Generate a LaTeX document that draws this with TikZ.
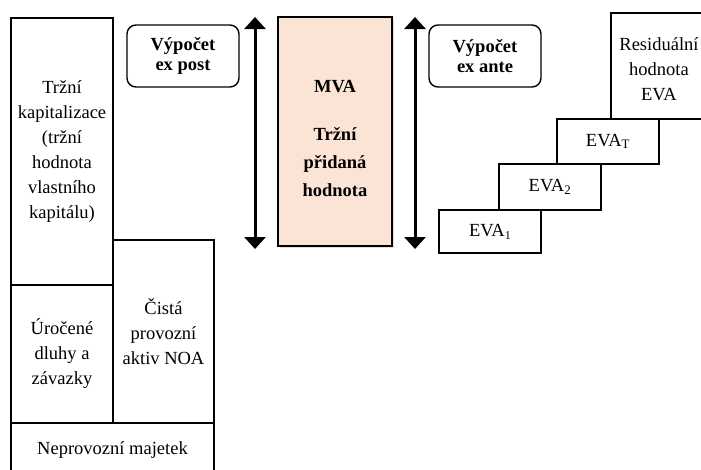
\documentclass[tikz,border=0pt]{standalone}
\usepackage{fontspec}
\setmainfont{Liberation Serif}
\usetikzlibrary{arrows.meta,shadows}
\definecolor{peach}{HTML}{FBE4D5}
\tikzset{
  plainbox/.style={draw, line width=1.2pt, inner sep=0pt, outer sep=0pt, align=center,
    font=\fontsize{18.5}{25}\selectfont},
  roundbox/.style={plainbox, rounded corners=9pt, line width=1.4pt,
    font=\fontsize{18.5}{20}\selectfont\bfseries},
  dblarrow/.style={line width=3pt, {Triangle[width=21pt,length=12pt]}-{Triangle[width=21pt,length=12pt]}},
}
\newcommand{\evasub}[1]{\raisebox{-0.35ex}{\fontsize{12}{12}\selectfont #1}}
\begin{document}
\begin{tikzpicture}[x=1pt,y=-1pt]
\useasboundingbox (0,0) rectangle (701,469);

% balance-sheet column
\node[plainbox, minimum width=102pt, minimum height=267pt] (kap) at (62,151.5)
  {Tržní\\kapitalizace\\(tržní\\hodnota\\vlastního\\kapitálu)};
\node[plainbox, minimum width=102pt, minimum height=138pt] (uroc) at (62,354)
  {Úročené\\dluhy a\\závazky};
\node[plainbox, minimum width=101pt, minimum height=183pt] (cista) at (163.5,331.5)
  {Čistá\\provozní\\aktiv NOA};
\node[plainbox, minimum width=203pt, minimum height=57pt] (neprov) at (112.5,451.5) {};
\node[font=\fontsize{18.5}{25}\selectfont] (neprovtxt) at (112.5,450) {Neprovozní majetek};

% calculation labels
\node[roundbox, minimum width=112pt, minimum height=62pt] (expost) at (183,56) {Výpočet\\ex post};
\node[roundbox, minimum width=112pt, minimum height=62pt] (exante) at (485,56) {Výpočet\\ex ante};

% MVA
\node[plainbox, fill=peach, minimum width=114pt, minimum height=229pt,
  drop shadow={shadow xshift=2pt, shadow yshift=-2pt, opacity=0.25}] (mva) at (335,131.5) {};
\node[align=center, font=\fontsize{18.5}{28}\selectfont\bfseries] (mvatxt) at (335,138)
  {MVA\\[20pt]Tržní\\přidaná\\hodnota};

% vertical arrows
\coordinate (lt) at (255,17);
\coordinate (lb) at (255,249);
\coordinate (rt) at (415,17);
\coordinate (rb) at (415,249);
\draw[dblarrow] (lt) -- (lb);
\draw[dblarrow] (rt) -- (rb);

% EVA staircase
\node[plainbox, minimum width=102pt, minimum height=43pt] (eva1) at (490,231.5) {EVA\evasub{1}};
\node[plainbox, minimum width=102pt, minimum height=46pt] (eva2) at (550,187) {EVA\textsubscript{2}};
\node[plainbox, minimum width=102pt, minimum height=45pt] (evaT) at (608,141.5) {EVA\textsubscript{T}};
\node[plainbox, minimum width=110pt, minimum height=106pt] (resid) at (666,66) {};
\node[align=center, font=\fontsize{18.5}{25}\selectfont] (residtxt) at (659,69)
  {Residuální\\hodnota\\EVA};
\end{tikzpicture}
\end{document}
